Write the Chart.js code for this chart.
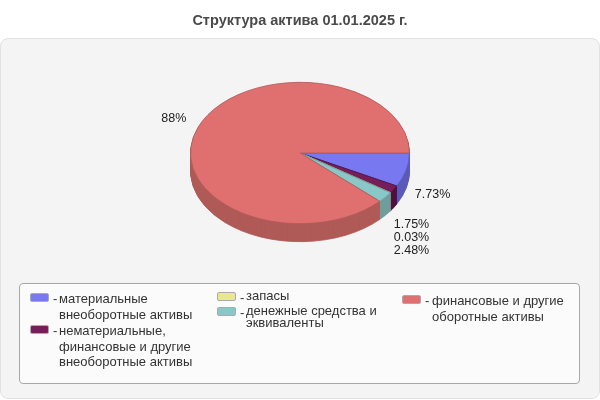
<!DOCTYPE html>
<html>
<head>
<meta charset="utf-8">
<script src="https://cdn.jsdelivr.net/npm/chart.js@4/dist/chart.umd.min.js"></script>
<style>
  html, body { margin: 0; padding: 0; background: #fff; width: 600px; height: 400px; overflow: hidden; }
  body { position: relative; font-family: "Liberation Sans", Arial, sans-serif; }
  #panel { position: absolute; left: 0; top: 38px; width: 598px; height: 359px; background: #f4f4f4; border: 1px solid #e2e2e2; border-radius: 8px; }
  #legend { position: absolute; left: 19px; top: 283px; width: 559px; height: 99px; background: #fbfbfb; border: 1px solid #a8a8a8; border-radius: 4px; }
  canvas { position: absolute; left: 0; top: 0; }
  .item { position: absolute; font-size: 13px; color: #333; white-space: pre; }
  .swatch { position: absolute; width: 17px; height: 7px; border: 1px solid #aaa; border-radius: 2px; }
  .dash { position: absolute; font-size: 13px; color: #333; }
</style>
</head>
<body>
<div id="panel"></div>
<div id="legend"></div>
<canvas id="chart" width="600" height="400"></canvas>
<script>
const titleText = 'Структура актива 01.01.2025 г.';
const categories = [
    'материальные внеоборотные активы',
    'нематериальные, финансовые и другие внеоборотные активы',
    'запасы',
    'денежные средства и эквиваленты',
    'финансовые и другие оборотные активы'
];
const values = [7.73, 1.75, 0.03, 2.48, 88];
const colors = ['#7878f0', '#771d5a', '#e8e890', '#88c8c8', '#e07070'];
const sideColors = ['#5a5ab8', '#4f1040', '#b0b06c', '#6f9e9c', '#b05a58'];

// legend lines, split the way the picture wraps them
const legendLines = [
    ['материальные', 'внеоборотные активы'],
    ['нематериальные,', 'финансовые и другие', 'внеоборотные активы'],
    ['запасы'],
    ['денежные средства и', 'эквиваленты'],
    ['финансовые и другие', 'оборотные активы']
];
const legendPos = [
    { x: 30, y: 293, lh: 15.6, dx: 29 },
    { x: 30, y: 325, lh: 15.6, dx: 29 },
    { x: 217, y: 292, lh: 12, dx: 29 },
    { x: 217, y: 307, lh: 12, dx: 29 },
    { x: 402, y: 295, lh: 16, dx: 30 }
];

const tiltY = 71 / 110;
const depth = 18;
const labelRadius = 1.2;
// nudges for the percent labels from where the slice angle puts them
const labelNudge = [[5, 3], null, null, null, [-4, -3]];
const stackedLabels = { 1: 225, 2: 238, 3: 251 };
const stackedX = 411.5;

const tiltPlugin = {
    id: 'tilt',
    beforeDatasetsDraw(chart) {
        const ctx = chart.ctx;
        const arcs = chart.getDatasetMeta(0).data;
        const cy = arcs[0].y;
        for (let d = depth; d >= 1; d--) {
            ctx.save();
            ctx.translate(0, cy + d);
            ctx.scale(1, tiltY);
            ctx.translate(0, -cy);
            arcs.forEach((arc, i) => {
                const orig = arc.options;
                const o = Object.create(orig);
                o.backgroundColor = sideColors[i];
                o.borderColor = sideColors[i];
                arc.options = o;
                arc.draw(ctx);
                arc.options = orig;
            });
            ctx.restore();
        }
        ctx.save();
        ctx.translate(0, cy);
        ctx.scale(1, tiltY);
        ctx.translate(0, -cy);
    },
    afterDatasetsDraw(chart) {
        chart.ctx.restore();
    },
    afterDraw(chart) {
        const ctx = chart.ctx;
        ctx.save();
        ctx.font = '12.5px "Liberation Sans", Arial, sans-serif';
        ctx.fillStyle = '#222';
        ctx.textAlign = 'center';
        ctx.textBaseline = 'middle';
        chart.getDatasetMeta(0).data.forEach((arc, i) => {
            const mid = (arc.startAngle + arc.endAngle) / 2;
            let x = arc.x + Math.cos(mid) * arc.outerRadius * labelRadius;
            let y = arc.y + Math.sin(mid) * arc.outerRadius * labelRadius * tiltY;
            if (Math.sin(mid) > 0) y += depth;
            if (labelNudge[i]) { x += labelNudge[i][0]; y += labelNudge[i][1]; }
            if (stackedLabels[i]) { x = stackedX; y = stackedLabels[i]; }
            ctx.fillText(values[i] + '%', x, y);
        });
        ctx.restore();
    }
};

new Chart(document.getElementById('chart').getContext('2d'), {
    type: 'pie',
    data: {
        labels: categories,
        datasets: [{
            data: values,
            backgroundColor: colors,
            borderColor: sideColors,
            borderWidth: 1,
            clip: false
        }]
    },
    options: {
        responsive: false,
        animation: false,
        rotation: 90,
        layout: { padding: { left: 190, right: 190, top: 0, bottom: 137 } },
        plugins: {
            legend: { display: false },
            tooltip: { enabled: false },
            title: {
                display: true,
                text: titleText,
                color: '#4a4a4a',
                font: { family: '"Liberation Sans", Arial, sans-serif', size: 14.5, weight: 'bold' },
                padding: { top: 12.3, bottom: 13.3 }
            }
        }
    },
    plugins: [tiltPlugin]
});

// html legend
legendLines.forEach((lines, i) => {
    const p = legendPos[i];
    const sw = document.createElement('div');
    sw.className = 'swatch';
    sw.style.left = p.x + 'px';
    sw.style.top = p.y + 'px';
    sw.style.background = colors[i];
    document.body.appendChild(sw);
    const dash = document.createElement('div');
    dash.className = 'dash';
    dash.textContent = '-';
    dash.style.left = (p.x + 23) + 'px';
    dash.style.top = (p.y - 2) + 'px';
    document.body.appendChild(dash);
    const t = document.createElement('div');
    t.className = 'item';
    t.textContent = lines.join('\n');
    t.style.left = (p.x + p.dx) + 'px';
    t.style.top = (p.y - 2) + 'px';
    t.style.lineHeight = p.lh + 'px';
    document.body.appendChild(t);
});
</script>
</body>
</html>
